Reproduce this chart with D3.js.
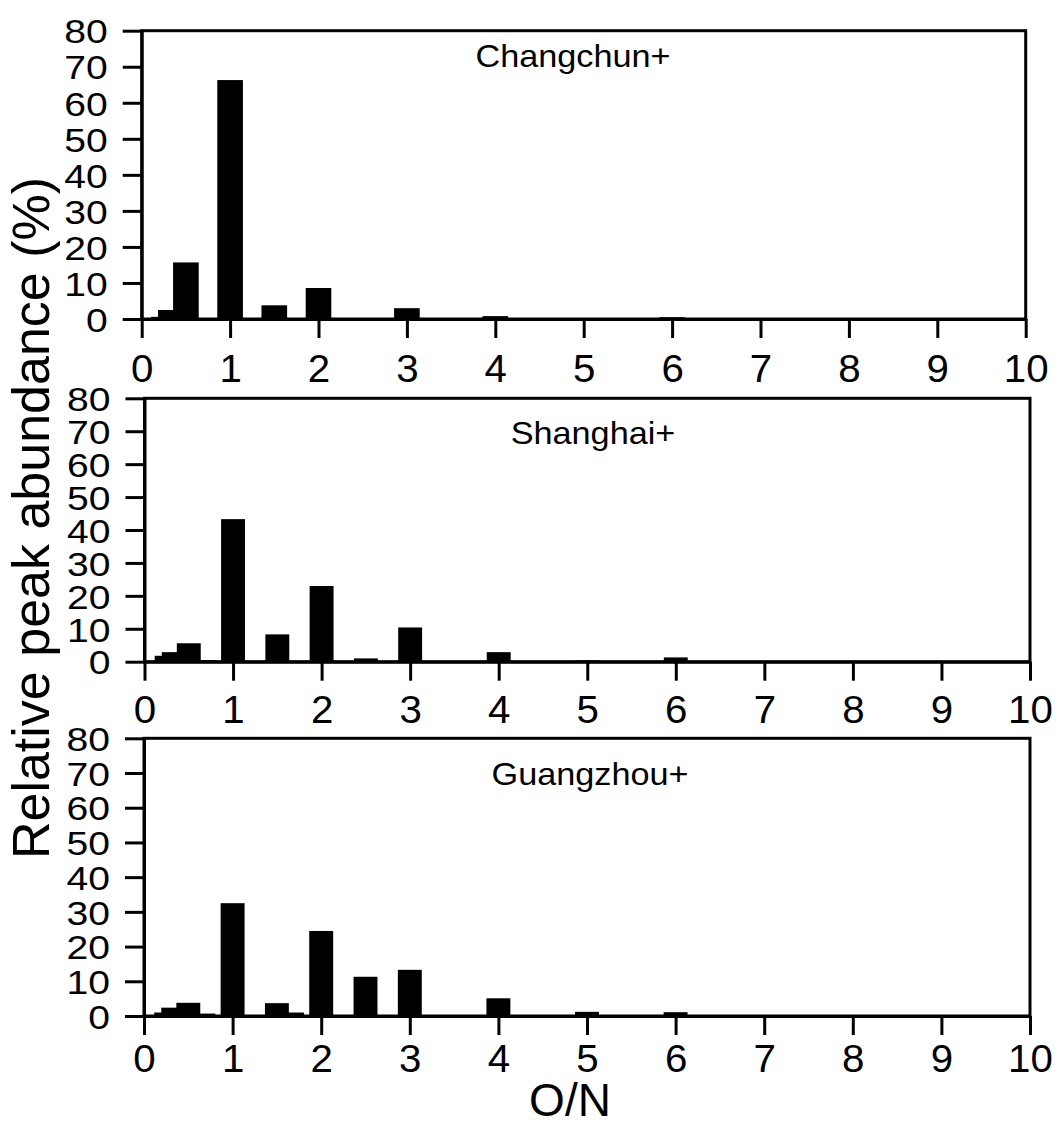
<!DOCTYPE html>
<html>
<head>
<meta charset="utf-8">
<script src="https://cdn.jsdelivr.net/npm/d3@7"></script>
<style>
  html, body { margin: 0; padding: 0; background: #fff; }
  svg { display: block; font-family: "Liberation Sans", Arial, sans-serif; }
</style>
</head>
<body>
<svg id="chart" width="1060" height="1124"></svg>
<script>
// O/N ratio classes shared by the three sites
const onRatios = [0.25, 0.33, 0.5, 0.67, 1, 1.5, 1.67, 2, 2.5, 3, 4, 5, 6];

// Relative peak abundance (%) per O/N class
const changchun = [0.6, 2.5, 15.7, 0, 66.3, 3.8, 0, 8.6, 0, 3.0, 0.8, 0, 0.5];
const shanghai  = [1.8, 2.9, 5.6, 0.5, 43.3, 8.3, 0, 23.0, 1.0, 10.4, 2.9, 0.4, 1.3];
const guangzhou = [1.0, 2.4, 3.8, 0.7, 32.5, 3.7, 1.0, 24.5, 11.3, 13.3, 5.1, 1.2, 1.1];

const siteNames = ["Changchun+", "Shanghai+", "Guangzhou+"];
const xTicks = [0, 1, 2, 3, 4, 5, 6, 7, 8, 9, 10];
const yTicks = [0, 10, 20, 30, 40, 50, 60, 70, 80];
const yTitle = "Relative peak abundance (%)";
const xTitle = "O/N";

// Panel frames
const panels = [
  { values: changchun, left: 141.7, right: 1025.7, top: 30.7,  bottom: 319,   barW: 0.29, labelX: 573, labelDy: 36, xLabOff: 63 },
  { values: shanghai,  left: 144.5, right: 1030,   top: 398.3, bottom: 661.7, barW: 0.27, labelX: 593, labelDy: 46, xLabOff: 61 },
  { values: guangzhou, left: 144,   right: 1030,   top: 738.3, bottom: 1016,  barW: 0.27, labelX: 590, labelDy: 47, xLabOff: 56 }
];

const svg = d3.select("#chart");
const lineW = 3;
const tickLen = 19;
const xLabStretch = 1.06, yLabStretch = 1.15, siteStretch = 1.07;

panels.forEach((p, i) => {
  const x = d3.scaleLinear().domain([0, 10]).range([p.left, p.right]);
  const y = d3.scaleLinear().domain([0, 80]).range([p.bottom, p.top]);
  const g = svg.append("g");

  // bars
  const rows = onRatios.map((r, k) => ({ r, v: p.values[k] })).filter(d => d.v > 0);
  g.append("g").selectAll("rect").data(rows).join("rect")
    .attr("x", d => x(d.r - p.barW / 2))
    .attr("width", d => x(d.r + p.barW / 2) - x(d.r - p.barW / 2))
    .attr("y", d => y(d.v))
    .attr("height", d => y(0) - y(d.v))
    .attr("fill", "#000");

  // frame (top and right edges)
  g.append("rect")
    .attr("x", p.left).attr("y", p.top)
    .attr("width", p.right - p.left).attr("height", p.bottom - p.top)
    .attr("fill", "none").attr("stroke", "#000").attr("stroke-width", lineW);

  // bottom axis
  const xa = g.append("g").attr("transform", `translate(0,${p.bottom})`)
    .call(d3.axisBottom(x).tickValues(xTicks).tickFormat(d3.format("d"))
      .tickSize(tickLen).tickSizeOuter(0));
  xa.select(".domain").attr("stroke-width", lineW);
  xa.selectAll(".tick line").attr("stroke-width", lineW);
  xa.selectAll(".tick text")
    .attr("y", p.xLabOff).attr("dy", 0)
    .attr("transform", `scale(${xLabStretch},1)`)
    .attr("font-size", 38).attr("font-family", "Liberation Sans, Arial, sans-serif")
    .attr("fill", "#000");

  // left axis
  const ya = g.append("g").attr("transform", `translate(${p.left},0)`)
    .call(d3.axisLeft(y).tickValues(yTicks).tickFormat(d3.format("d"))
      .tickSize(tickLen).tickSizeOuter(0));
  ya.select(".domain").attr("stroke-width", lineW);
  ya.selectAll(".tick line").attr("stroke-width", lineW);
  ya.selectAll(".tick text")
    .attr("x", -34 / yLabStretch).attr("dy", "0.36em")
    .attr("transform", `scale(${yLabStretch},1)`)
    .attr("font-size", 34).attr("font-family", "Liberation Sans, Arial, sans-serif")
    .attr("fill", "#000");

  // site label
  g.append("text")
    .attr("transform", `translate(${p.labelX},${p.top + p.labelDy}) scale(${siteStretch},1)`)
    .attr("text-anchor", "middle")
    .attr("font-size", 32)
    .text(siteNames[i]);
});

// axis titles
svg.append("text")
  .attr("transform", "translate(49,518) rotate(-90)")
  .attr("text-anchor", "middle")
  .attr("font-size", 52)
  .text(yTitle);

svg.append("text")
  .attr("x", 570).attr("y", 1116)
  .attr("text-anchor", "middle")
  .attr("font-size", 46)
  .text(xTitle);
</script>
</body>
</html>
